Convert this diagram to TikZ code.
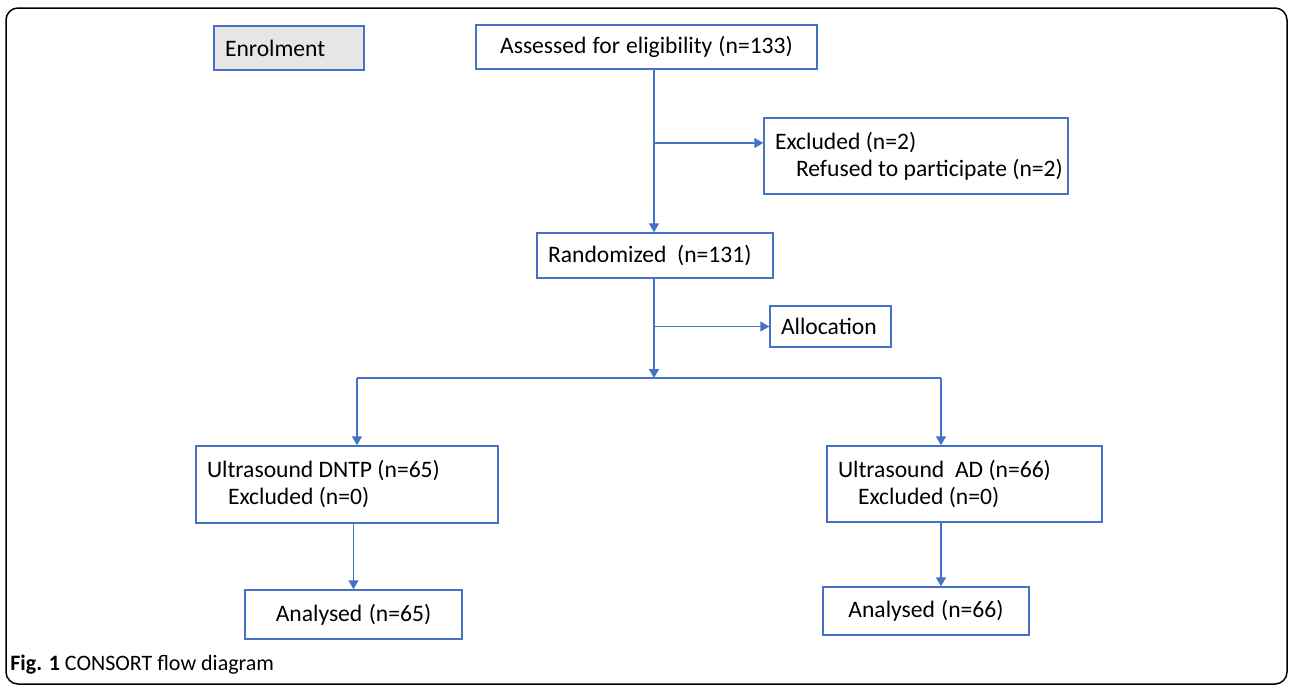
\documentclass[tikz,border=0pt]{standalone}
\usepackage{fontspec}
\setmainfont{Carlito}
\usetikzlibrary{arrows.meta}
\definecolor{boxblue}{HTML}{4472C4}
\definecolor{enrolgray}{HTML}{E7E6E6}
\newcommand\normspace{\spaceskip 0pt\xspaceskip 0pt\relax}
\tikzset{
  box/.style={draw=boxblue, line width=0.75pt, inner xsep=5.5pt, inner ysep=0pt,
    align=left, font=\fontsize{11.8}{13.5}\selectfont,
    execute at begin node=\normspace},
  arr/.style={draw=boxblue, line width=0.8pt, -{Triangle[length=4.5pt,width=5pt]}},
  conn/.style={draw=boxblue, line width=0.8pt}
}
\begin{document}
\begin{tikzpicture}[x=0.5pt,y=-0.5pt]
\useasboundingbox (0,0) rectangle (1292,685);
% frame
\draw[line width=0.75pt, rounded corners=6pt] (6,8) rectangle (1287,684);
% enrolment
\node[box, fill=enrolgray, text width=64pt, minimum height=22pt] (enrol) at (289,48) {Enrolment};
\node[box, align=center, text width=159.5pt, minimum height=22pt] (assess) at (646.5,47)
  {Assessed for eligibility (n=133)};
\node[box, text width=141pt, minimum height=38pt] (excl) at (916,156)
  {Excluded (n=2)\\\hspace*{10.5pt}\mbox{Refused to participate (n=2)}};
\node[box, text width=107pt, minimum height=22.5pt] (rand) at (655,255.5)
  {Randomized\ \ (n=131)};
\node[box, text width=49.5pt, minimum height=20.5pt] (alloc) at (830.5,326.5) {Allocation};
% arms
\node[box, text width=140pt, minimum height=38.5pt] (dntp) at (347,484.5)
  {Ultrasound DNTP (n=65)\\\hspace*{10.5pt}Excluded (n=0)};
\node[box, text width=126.5pt, minimum height=38pt] (ad) at (964.5,484)
  {Ultrasound\ \ AD (n=66)\\\hspace*{10pt}Excluded (n=0)};
\node[box, align=center, text width=97.5pt, minimum height=24.5pt] (an1) at (353.5,614.5)
  {Analysed (n=65)};
\node[box, align=center, text width=92pt, minimum height=24pt] (an2) at (926,611)
  {Analysed (n=66)};
% connectors
\coordinate (b1) at (654,143);
\coordinate (split) at (654,378);
\coordinate (sl) at (357,378);
\coordinate (sr) at (941,378);
\draw[arr] (assess.south -| b1) -- (rand.north -| b1);
\draw[arr] (b1) -- (b1 -| excl.west);
\draw[arr] (rand.south -| b1) -- (split);
\draw[arr] (split |- alloc) -- (alloc.west);
\draw[conn] (sl) -- (sr);
\draw[arr] (sl) -- (sl |- dntp.north);
\draw[arr] (sr) -- (sr |- ad.north);
\draw[arr] (dntp.south -| an1) -- (an1.north);
\draw[arr] (sr |- ad.south) -- (sr |- an2.north);
% caption
\node[anchor=base west, inner sep=0pt, font=\fontsize{11}{13}\selectfont] (cap) at (10,670)
  {\textbf{Fig. 1} CONSORT flow diagram};
\end{tikzpicture}
\end{document}
